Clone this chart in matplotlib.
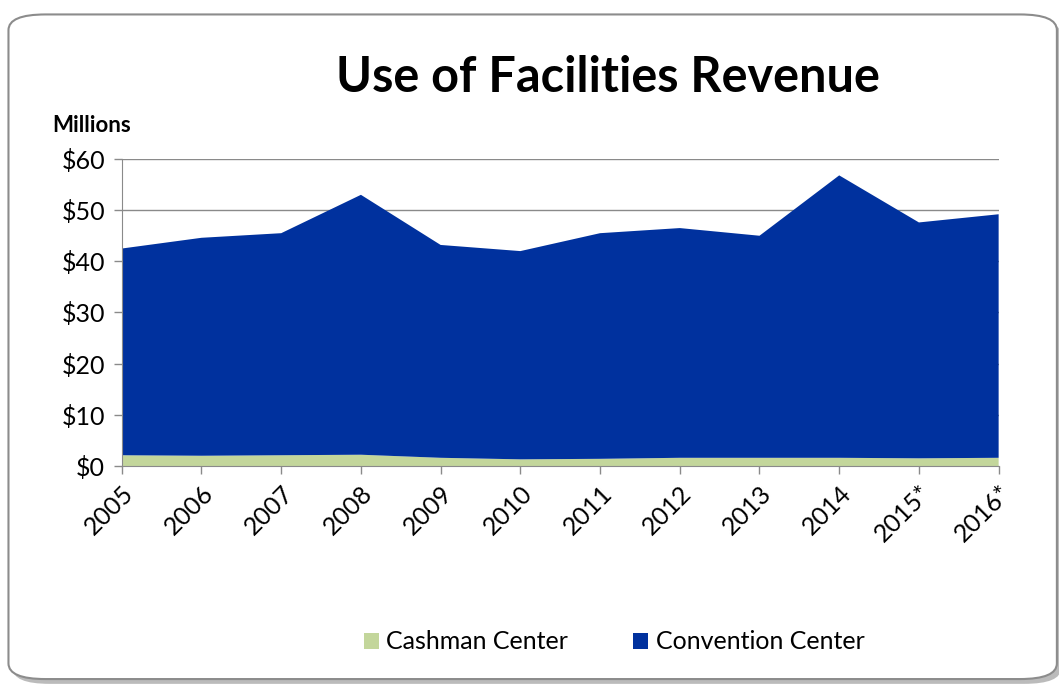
import matplotlib
matplotlib.use("Agg")
import matplotlib.pyplot as plt
from matplotlib.patches import FancyBboxPatch, Patch
import numpy as np

years = ["2005", "2006", "2007", "2008", "2009", "2010", "2011", "2012",
         "2013", "2014", "2015*", "2016*"]
cashman = [2.1, 2.0, 2.1, 2.2, 1.6, 1.3, 1.4, 1.6, 1.6, 1.6, 1.5, 1.6]
total = [42.5, 44.6, 45.5, 53.0, 43.2, 42.0, 45.5, 46.5, 45.0, 56.8, 47.6, 49.2]
convention = [t - c for t, c in zip(total, cashman)]
yticks = [0, 10, 20, 30, 40, 50, 60]
ytick_labels = ["$0", "$10", "$20", "$30", "$40", "$50", "$60"]

plt.rcParams["font.family"] = ["Lato", "DejaVu Sans"]

fig = plt.figure(figsize=(10.59, 6.88), dpi=100)
fig.patch.set_facecolor("white")

# rounded frame with soft shadow
shadow = FancyBboxPatch((0.012, 0.006), 0.99, 0.966,
                        boxstyle="round,pad=0,rounding_size=0.035",
                        transform=fig.transFigure, facecolor="#8f8f8f",
                        edgecolor="none", alpha=0.6, zorder=0,
                        mutation_aspect=688 / 1059)
fig.patches.append(shadow)
frame = FancyBboxPatch((0.008, 0.013), 0.99, 0.966,
                       boxstyle="round,pad=0,rounding_size=0.035",
                       transform=fig.transFigure, facecolor="white",
                       edgecolor="#8c8c8c", linewidth=1.5, zorder=1,
                       mutation_aspect=688 / 1059)
fig.patches.append(frame)

ax = fig.add_axes([0.115, 0.3227, 0.828, 0.4462])
ax.set_zorder(2)
ax.patch.set_alpha(0)

x = np.arange(len(years))
ax.stackplot(x, cashman, convention,
             colors=["#c3d69b", "#00319e"], linewidth=0, zorder=2)

ax.set_xlim(0, len(years) - 1)
ax.set_ylim(0, 60)
ax.set_yticks(yticks)
ax.set_yticklabels(ytick_labels, fontsize=18)
ax.set_xticks(x)
ax.set_xticklabels(years, rotation=45, ha="right", rotation_mode="anchor",
                   fontsize=18)
ax.yaxis.grid(True, color="#8a8a8a", linewidth=1.0, zorder=1)
ax.set_axisbelow(True)
for s in ["top", "right"]:
    ax.spines[s].set_visible(False)
for s in ["left", "bottom"]:
    ax.spines[s].set_color("#8a8a8a")
    ax.spines[s].set_zorder(3)
ax.tick_params(axis="both", color="#8a8a8a", length=6, width=1, direction="out")
ax.tick_params(axis="y", pad=6)
ax.tick_params(axis="x", pad=5)

fig.text(0.574, 0.887, "Use of Facilities Revenue", fontsize=35,
         fontweight="bold", ha="center", va="center", zorder=3)
fig.text(0.049, 0.818, "Millions", fontsize=16, fontweight="bold",
         ha="left", va="center", zorder=3)

handles = [Patch(facecolor="#c3d69b", edgecolor="none", label="Cashman Center"),
           Patch(facecolor="#00319e", edgecolor="none", label="Convention Center")]
leg = fig.legend(handles=handles, loc="center", bbox_to_anchor=(0.58, 0.067),
                 ncol=2, frameon=False, fontsize=18, handlelength=0.6,
                 handleheight=0.6, handletextpad=0.3, columnspacing=2.6)
leg.set_zorder(3)

fig.savefig("out.png", dpi=100)
